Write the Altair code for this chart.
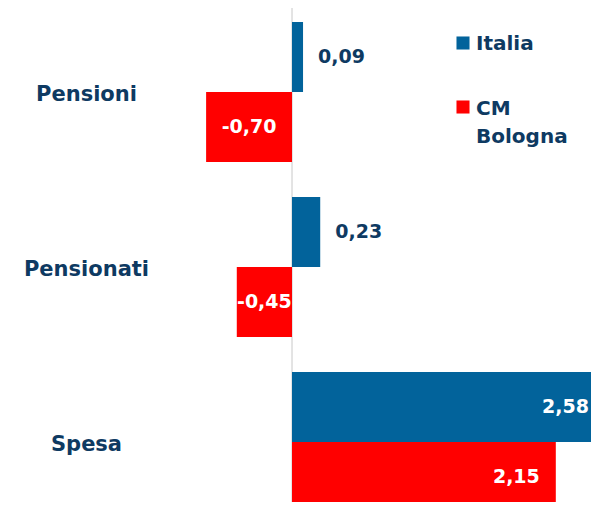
import altair as alt
import pandas as pd

categories = ["Pensioni", "Pensionati", "Spesa"]
series = ["Italia", "CM Bologna"]
italia = [0.09, 0.23, 2.58]
bologna = [-0.70, -0.45, 2.15]
colors = ["#02639B", "#FF0000"]

rows = []
for c, a, b in zip(categories, italia, bologna):
    rows.append({"cat": c, "series": series[0], "value": a})
    rows.append({"cat": c, "series": series[1], "value": b})
df = pd.DataFrame(rows)
df["label"] = df["value"].map(lambda v: f"{v:.2f}".replace(".", ","))

FONT = "DejaVu Sans"
DARK = "#0E3A62"
PX = 122.7
W = 583
H = 494
XR = 620
YR = 518
xmin = -284 / PX
xmax = XR / PX + xmin
vis_max = (W - 2) / PX + xmin
pad_in = 16 / PX

xscale = alt.Scale(domain=[xmin, xmax], range=[0, XR], nice=False, zero=False)
x_enc = alt.X("value:Q", scale=xscale, axis=None)
y_enc = alt.Y(
    "cat:N", sort=categories,
    scale=alt.Scale(range=[0, YR], paddingInner=0.2, paddingOuter=0.08),
    axis=alt.Axis(title=None, domain=False, ticks=False, labelAlign="center",
                  labelFont=FONT, labelFontSize=21, labelFontWeight="bold",
                  labelColor=DARK, offset=-78, labelPadding=0, labelOffset=3),
)
yoff = alt.YOffset("series:N", sort=series, scale=alt.Scale(paddingInner=0, paddingOuter=0))
color = alt.Color("series:N", sort=series, scale=alt.Scale(domain=series, range=colors), legend=None)

base = alt.Chart(df)
bars = base.mark_bar().encode(x=x_enc, x2=alt.datum(0), y=y_enc, yOffset=yoff, color=color)

txt = dict(font=FONT, fontSize=19, fontWeight="bold", baseline="middle")
out_lbl = base.transform_filter("datum.value > 0 && datum.value < 1").mark_text(
    align="left", dx=15, color=DARK, **txt
).encode(x=x_enc, y=y_enc, yOffset=yoff, text="label:N")
in_lbl = base.transform_filter("datum.value >= 1").transform_calculate(
    lx=f"min(datum.value - {pad_in}, {vis_max})"
).mark_text(align="right", color="white", **txt).encode(
    x=alt.X("lx:Q", scale=xscale, axis=None), y=y_enc, yOffset=yoff, text="label:N"
)
neg_lbl = base.transform_filter("datum.value < 0").transform_calculate(
    mid="datum.value / 2"
).mark_text(align="center", color="white", **txt).encode(
    x=alt.X("mid:Q", scale=xscale, axis=None), y=y_enc, yOffset=yoff, text="label:N"
)

zero = alt.Chart(pd.DataFrame({"z": [0]})).mark_rule(color="#C8C8C8", strokeWidth=1).encode(
    x=alt.X("z:Q", scale=xscale, axis=None), y=alt.value(-2), y2=alt.value(H)
)

leg_df = pd.DataFrame({"series": series})
leg_color = alt.Color("series:N", scale=alt.Scale(domain=series, range=colors), legend=None)
legend_layers = []
for name, sy, ty in [(series[0], 35, 42), (series[1], 99, 107)]:
    lb = alt.Chart(leg_df).transform_filter(alt.datum.series == name)
    legend_layers.append(
        lb.mark_square(size=170, opacity=1).encode(x=alt.value(455), y=alt.value(sy), color=leg_color)
    )
    legend_layers.append(
        lb.transform_calculate(lines="split(datum.series, ' ')").mark_text(
            align="left", baseline="alphabetic", font=FONT, fontSize=20, fontWeight="bold",
            color=DARK, lineHeight=28,
        ).encode(x=alt.value(468), y=alt.value(ty), text="lines:N")
    )

chart = alt.layer(zero, bars, out_lbl, in_lbl, neg_lbl, *legend_layers).properties(
    width=W, height=H, autosize=alt.AutoSizeParams(type="none"), padding=0, background="white"
).configure_view(stroke=None)

chart.save("out.html", embed_options={"renderer": "svg", "actions": False})
